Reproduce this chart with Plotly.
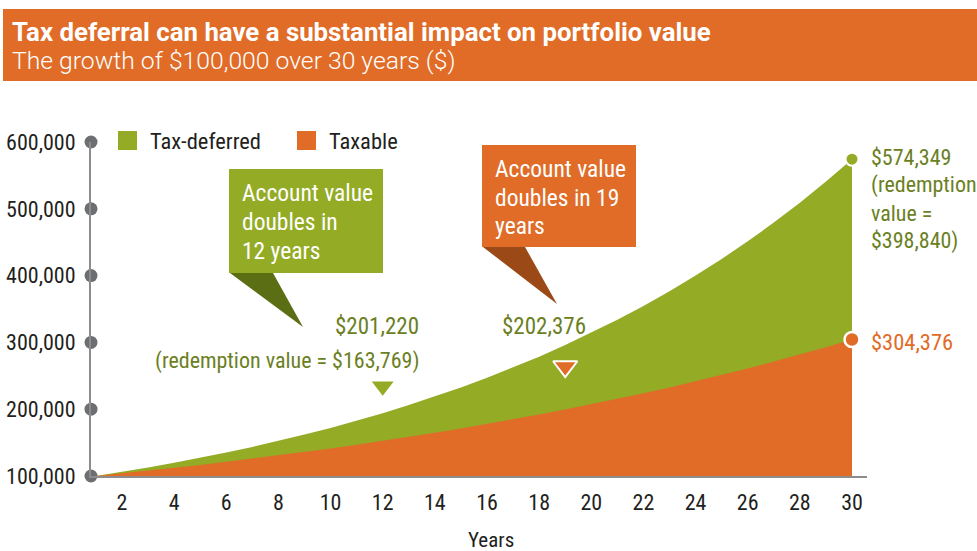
import plotly.graph_objects as go

# ---------------- data ----------------
years = list(range(1, 31))
tax_deferred = [100000, 106213, 112813, 119822, 127267, 135175, 143574, 152495, 161970, 172034,
                182723, 194077, 206130, 218944, 232548, 246998, 262345, 278645, 295959, 314334,
                333880, 354625, 376659, 400041, 424896, 451295, 479335, 509118, 540750, 574349]
taxable = [100000, 103913, 107979, 112204, 116594, 121157, 125897, 130824, 135943, 141262,
           146790, 152534, 158501, 164704, 171148, 177845, 184804, 192036, 199550, 207358,
           215472, 223904, 232664, 241770, 251229, 261060, 271274, 281890, 292920, 304376]
y_ticks = [100000, 200000, 300000, 400000, 500000, 600000]
y_tick_labels = ["100,000", "200,000", "300,000", "400,000", "500,000", "600,000"]
x_ticks = list(range(2, 31, 2))
series_names = ["Tax-deferred", "Taxable"]
doubling_years = [12, 19]          # green marker (tax-deferred), orange marker (taxable)

# ---------------- styling ----------------
W, H = 977, 551
ML, MR, MT, MB = 91, 110, 142, 75
PW = W - ML - MR
PH = H - MT - MB
GREEN = "#94AB26"
GREEN_DARK = "#5B6E14"
GREEN_TEXT = "#6B7F23"
ORANGE = "#E06C28"
ORANGE_DARK = "#9B4A17"
GRAY_DOT = "#6D6E71"
AXIS = "#8C8C8C"
TEXT = "#231F20"
FONT = "Roboto Condensed, Roboto, sans-serif"
FONT_TITLE = "Roboto, sans-serif"

x_range = [0.811, 30.575]
y_range = [100000, 600000]


def px(x):
    return (x - ML) / PW


def py(y):
    return (H - MB - y) / PH


def val_offset(pixels):
    return pixels * (y_range[1] - y_range[0]) / PH


fig = go.Figure()

fig.add_trace(go.Scatter(x=years, y=tax_deferred, mode="lines", line=dict(width=0, color=GREEN),
                         fill="tozeroy", fillcolor=GREEN, name=series_names[0],
                         showlegend=False, hoverinfo="skip"))
fig.add_trace(go.Scatter(x=years, y=taxable, mode="lines", line=dict(width=0, color=ORANGE),
                         fill="tozeroy", fillcolor=ORANGE, name=series_names[1],
                         showlegend=False, hoverinfo="skip"))

# y-axis dots
fig.add_trace(go.Scatter(x=[x_range[0]] * len(y_ticks), y=y_ticks, mode="markers",
                         marker=dict(size=13, color=GRAY_DOT), cliponaxis=False,
                         showlegend=False, hoverinfo="skip"))

# end dots
fig.add_trace(go.Scatter(x=[years[-1]], y=[tax_deferred[-1]], mode="markers",
                         marker=dict(size=13, color=GREEN, line=dict(color="white", width=2)),
                         cliponaxis=False, showlegend=False, hoverinfo="skip"))
fig.add_trace(go.Scatter(x=[years[-1]], y=[taxable[-1]], mode="markers",
                         marker=dict(size=15, color=ORANGE, line=dict(color="white", width=2.5)),
                         cliponaxis=False, showlegend=False, hoverinfo="skip"))

# doubling markers
gy = doubling_years[0]
oy = doubling_years[1]
fig.add_trace(go.Scatter(x=[gy], y=[tax_deferred[years.index(gy)] + val_offset(27)], mode="markers",
                         marker=dict(symbol="triangle-down", size=19, color=GREEN,
                                     line=dict(width=0)),
                         showlegend=False, hoverinfo="skip"))
fig.add_trace(go.Scatter(x=[oy], y=[taxable[years.index(oy)] + val_offset(43)], mode="markers",
                         marker=dict(symbol="triangle-down", size=21, color=ORANGE,
                                     line=dict(width=2, color="white")),
                         showlegend=False, hoverinfo="skip"))

shapes = []
annotations = []

# banner
shapes.append(dict(type="rect", xref="paper", yref="paper", x0=px(3), x1=px(977), y0=py(81), y1=py(9),
                   fillcolor=ORANGE, line=dict(width=0), layer="below"))
annotations.append(dict(xref="paper", yref="paper", x=px(10), y=py(32), xanchor="left", yanchor="middle",
                        text="<b>Tax deferral can have a substantial impact on portfolio value</b>",
                        showarrow=False, font=dict(family=FONT_TITLE, size=25.8, color="white")))
annotations.append(dict(xref="paper", yref="paper", x=px(10), y=py(61), xanchor="left", yanchor="middle",
                        text="The growth of $100,000 over 30 years ($)",
                        showarrow=False, font=dict(family=FONT_TITLE, size=24.7, color="white", weight=300)))

# legend
for (x0, color, label) in [(118, GREEN, series_names[0]), (297, ORANGE, series_names[1])]:
    shapes.append(dict(type="rect", xref="paper", yref="paper", x0=px(x0), x1=px(x0 + 19),
                       y0=py(150), y1=py(131), fillcolor=color, line=dict(width=0)))
    annotations.append(dict(xref="paper", yref="paper", x=px(x0 + 30), y=py(141), xanchor="left",
                            yanchor="middle", text=label, showarrow=False,
                            font=dict(family=FONT, size=22.5, color=TEXT)))

# green callout
shapes.append(dict(type="rect", xref="paper", yref="paper", x0=px(229), x1=px(383), y0=py(273), y1=py(169),
                   fillcolor=GREEN, line=dict(width=0)))
shapes.append(dict(type="path", xref="paper", yref="paper",
                   path="M {} {} L {} {} L {} {} Z".format(px(230), py(273), px(273), py(273), px(303), py(327)),
                   fillcolor=GREEN_DARK, line=dict(width=0)))
for t, yy in [("Account value", 193), ("doubles in", 222), ("12 years", 251)]:
    annotations.append(dict(xref="paper", yref="paper", x=px(240), y=py(yy), xanchor="left", yanchor="middle",
                            text=t, showarrow=False, font=dict(family=FONT, size=23.5, color="white")))

# orange callout
shapes.append(dict(type="rect", xref="paper", yref="paper", x0=px(482), x1=px(636), y0=py(247), y1=py(145),
                   fillcolor=ORANGE, line=dict(width=0)))
shapes.append(dict(type="path", xref="paper", yref="paper",
                   path="M {} {} L {} {} L {} {} Z".format(px(483), py(247), px(525), py(247), px(557), py(304)),
                   fillcolor=ORANGE_DARK, line=dict(width=0)))
for t, yy in [("Account value", 169), ("doubles in 19", 198), ("years", 226)]:
    annotations.append(dict(xref="paper", yref="paper", x=px(493), y=py(yy), xanchor="left", yanchor="middle",
                            text=t, showarrow=False, font=dict(family=FONT, size=23.5, color="white")))

# value labels
annotations.append(dict(xref="paper", yref="paper", x=px(421), y=py(326), xanchor="right", yanchor="middle",
                        text="$201,220", showarrow=False, font=dict(family=FONT, size=23, color=GREEN_TEXT)))
annotations.append(dict(xref="paper", yref="paper", x=px(421), y=py(361), xanchor="right", yanchor="middle",
                        text="(redemption value = $163,769)", showarrow=False,
                        font=dict(family=FONT, size=22, color=GREEN_TEXT)))
annotations.append(dict(xref="paper", yref="paper", x=px(500), y=py(326), xanchor="left", yanchor="middle",
                        text="$202,376", showarrow=False, font=dict(family=FONT, size=23, color=GREEN_TEXT)))
for t, yy in [("$574,349", 157), ("(redemption", 185), ("value =", 213), ("$398,840)", 241)]:
    annotations.append(dict(xref="paper", yref="paper", x=px(869), y=py(yy), xanchor="left", yanchor="middle",
                            text=t, showarrow=False, font=dict(family=FONT, size=22, color=GREEN_TEXT)))
annotations.append(dict(xref="paper", yref="paper", x=px(869), y=py(342), xanchor="left", yanchor="middle",
                        text="$304,376", showarrow=False, font=dict(family=FONT, size=22.5, color=ORANGE)))

# x-axis title
annotations.append(dict(xref="paper", yref="paper", x=px(491), y=py(540), xanchor="center", yanchor="middle",
                        text="Years", showarrow=False, font=dict(family=FONT, size=21, color=TEXT)))

fig.update_layout(
    width=W, height=H,
    margin=dict(l=ML, r=MR, t=MT, b=MB, autoexpand=False),
    paper_bgcolor="white", plot_bgcolor="white",
    showlegend=False,
    shapes=shapes, annotations=annotations,
    xaxis=dict(range=x_range, tickvals=x_ticks, ticktext=[str(v) for v in x_ticks],
               showgrid=False, zeroline=False, showline=True, linecolor=AXIS, linewidth=2,
               ticks="", ticklabelstandoff=6, tickfont=dict(family=FONT, size=22, color=TEXT),
               fixedrange=True),
    yaxis=dict(range=y_range, tickvals=y_ticks, ticktext=y_tick_labels,
               showgrid=False, zeroline=False, showline=True, linecolor=AXIS, linewidth=2,
               ticks="", ticklabelstandoff=9, tickfont=dict(family=FONT, size=22, color=TEXT),
               fixedrange=True),
)

fig.write_html("out.html", config={"displayModeBar": False},
               post_script="document.body.style.margin='0';")
